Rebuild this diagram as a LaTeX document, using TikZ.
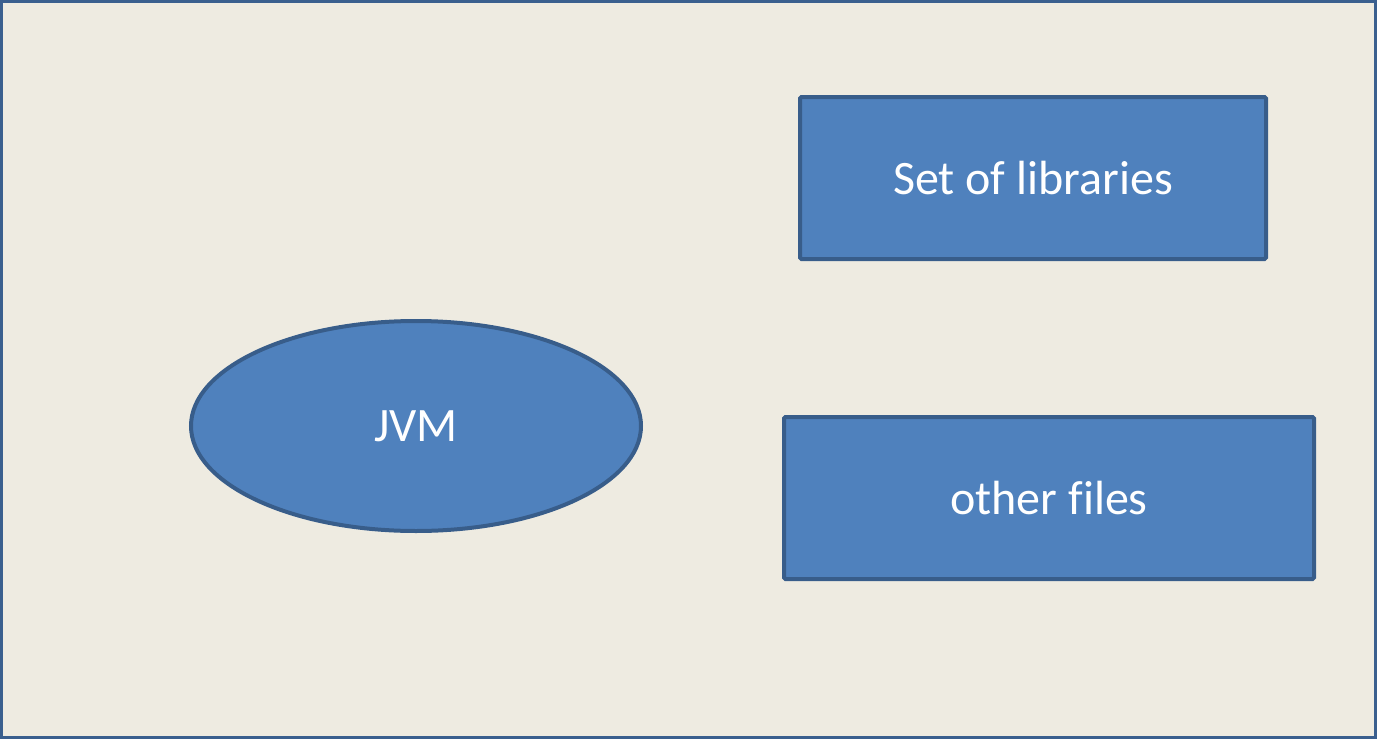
\documentclass[tikz,border=0pt]{standalone}
\usepackage{fontspec}
\setmainfont[Ligatures=NoCommon]{Carlito}
\usetikzlibrary{shapes.geometric}
\definecolor{bgc}{HTML}{EEEBE1}
\definecolor{fillc}{HTML}{4F81BD}
\definecolor{edgec}{HTML}{385D8A}
\definecolor{framec}{HTML}{3A5F8E}
\tikzset{
  shapebox/.style={rectangle, draw=edgec, fill=fillc, line width=4pt, rounded corners=1.5pt,
    text=white, font=\fontsize{48}{56}\selectfont, inner sep=0pt},
  shapeell/.style={ellipse, draw=edgec, fill=fillc, line width=4pt,
    text=white, font=\fontsize{48}{56}\selectfont, inner sep=0pt}
}
\begin{document}
\begin{tikzpicture}[x=1pt,y=-1pt]
\useasboundingbox (0,0) rectangle (1377,739);
\fill[bgc] (0,0) rectangle (1377,739);
\draw[framec, line width=3pt] (1.5,1.5) rectangle (1375.5,737.5);
\node[shapebox, minimum width=466pt, minimum height=162pt] (lib) at (1033,178) {Set of libraries};
\node[shapebox, minimum width=530pt, minimum height=162pt] (oth) at (1049,498) {other files};
\node[shapeell, minimum width=450pt, minimum height=210pt] (jvm) at (416,426) {JVM};
\end{tikzpicture}
\end{document}
